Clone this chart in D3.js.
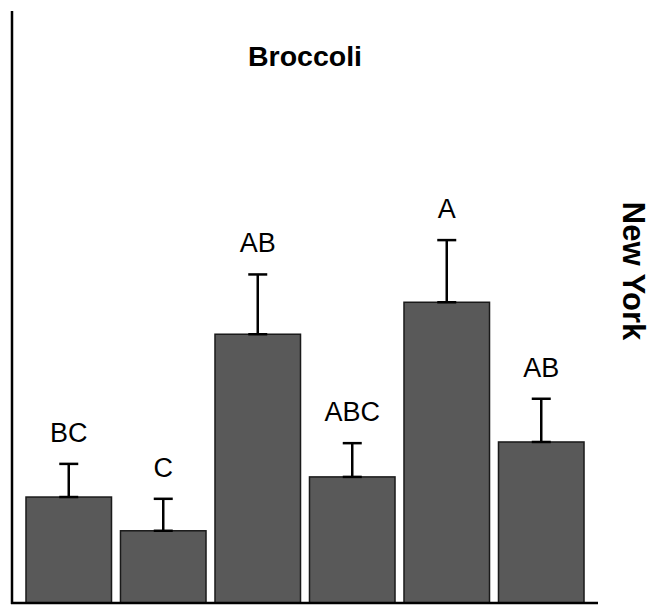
<!DOCTYPE html>
<html lang="en">
<head>
  <meta charset="UTF-8">
  <title>Broccoli - New York</title>
  <script src="https://d3js.org/d3.v7.min.js"></script>
  <style>
    body {
      margin: 0;
      padding: 0;
      background: white;
    }
    svg {
      display: block;
      font-family: "Liberation Sans", Arial, sans-serif;
    }
  </style>
</head>
<body>
  <script>
    // data
    const treatments = ["T1", "T2", "T3", "T4", "T5", "T6"];
    const means = [17.9, 12.2, 45.4, 21.3, 50.8, 27.2];
    const errors = [5.6, 5.4, 10.1, 5.7, 10.5, 7.3];
    const letters = ["BC", "C", "AB", "ABC", "A", "AB"];

    const width = 648;
    const height = 607;

    const svg = d3.select("body").append("svg")
      .attr("width", width)
      .attr("height", height);

    const x = d3.scaleBand()
      .domain(treatments)
      .range([12, 598])
      .paddingInner(0.095)
      .paddingOuter(0.148);

    const y = d3.scaleLinear()
      .domain([0, 100])
      .range([603, 11]);

    const rows = treatments.map((t, i) => ({ t, m: means[i], e: errors[i], l: letters[i] }));

    // bars
    svg.append("g")
      .selectAll("rect")
      .data(rows)
      .enter().append("rect")
      .attr("x", d => x(d.t))
      .attr("y", d => y(d.m))
      .attr("width", x.bandwidth())
      .attr("height", d => y(0) - y(d.m))
      .attr("fill", "#595959")
      .attr("stroke", "#1a1a1a")
      .attr("stroke-width", 1.5);

    // error bars (upper only)
    const eb = svg.append("g")
      .attr("stroke", "black")
      .attr("stroke-width", 2.5);

    const cx = d => x(d.t) + x.bandwidth() / 2;
    const capW = 9.5;

    eb.selectAll(".stem")
      .data(rows)
      .enter().append("line")
      .attr("x1", cx).attr("x2", cx)
      .attr("y1", d => y(d.m))
      .attr("y2", d => y(d.m + d.e));

    eb.selectAll(".cap")
      .data(rows)
      .enter().append("line")
      .attr("x1", d => cx(d) - capW).attr("x2", d => cx(d) + capW)
      .attr("y1", d => y(d.m + d.e))
      .attr("y2", d => y(d.m + d.e));

    eb.selectAll(".base")
      .data(rows)
      .enter().append("line")
      .attr("x1", d => cx(d) - capW).attr("x2", d => cx(d) + capW)
      .attr("y1", d => y(d.m))
      .attr("y2", d => y(d.m));

    // significance letters
    svg.append("g")
      .selectAll("text")
      .data(rows)
      .enter().append("text")
      .attr("x", cx)
      .attr("y", d => y(d.m + d.e) - 22)
      .attr("text-anchor", "middle")
      .attr("font-size", 27)
      .text(d => d.l);

    // axis lines
    svg.append("line")
      .attr("x1", 12).attr("x2", 12)
      .attr("y1", y(100)).attr("y2", y(0) + 1)
      .attr("stroke", "black").attr("stroke-width", 2.5);

    svg.append("line")
      .attr("x1", 11).attr("x2", 598)
      .attr("y1", y(0)).attr("y2", y(0))
      .attr("stroke", "black").attr("stroke-width", 2.5);

    // title
    svg.append("text")
      .attr("x", 305)
      .attr("y", 66)
      .attr("text-anchor", "middle")
      .attr("font-size", 28.5)
      .attr("font-weight", "bold")
      .text("Broccoli");

    // strip label on the right
    svg.append("text")
      .attr("transform", "translate(623,271) rotate(90)")
      .attr("text-anchor", "middle")
      .attr("font-size", 31)
      .attr("font-weight", "bold")
      .text("New York");
  </script>
</body>
</html>
